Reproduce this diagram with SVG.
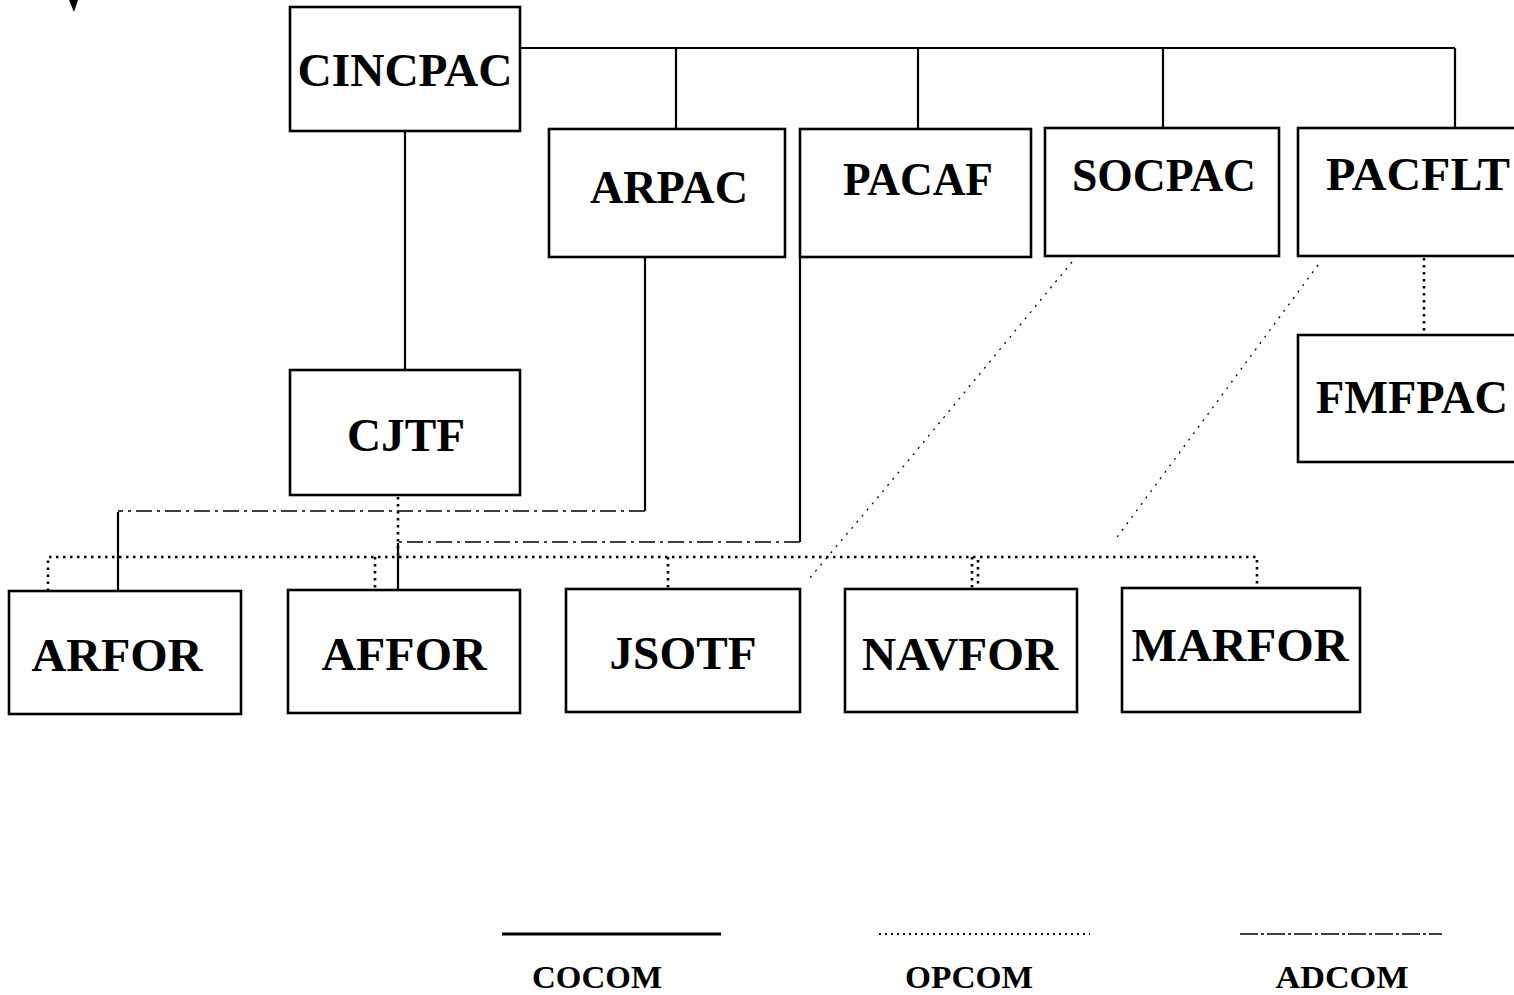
<svg xmlns="http://www.w3.org/2000/svg" width="1514" height="995" viewBox="0 0 1514 995">
<style>
.box{fill:#fff;stroke:#000;stroke-width:2.6}
.lbl{font-family:"Liberation Serif","Times New Roman",serif;font-weight:bold;font-size:46px;fill:#000;text-anchor:middle}
.leg{font-family:"Liberation Serif","Times New Roman",serif;font-weight:bold;font-size:32px;fill:#000;text-anchor:middle}
.co{fill:none;stroke:#000;stroke-width:2.2}
.op{fill:none;stroke:#000;stroke-width:2.6;stroke-dasharray:2.5 4.5}
.ad{fill:none;stroke:#000;stroke-width:1.6;stroke-dasharray:16 5 3 5}
.adf{fill:none;stroke:#000;stroke-width:1.3;stroke-dasharray:2 6}
</style>
<rect width="1514" height="995" fill="#fff"/>
<path d="M69,0 H78 L74,12 Z" fill="#000"/>
<g id="connectors">
  <path class="co" d="M520,48 H1455 M676,48 V129 M918,48 V129 M1163,48 V128 M1455,48 V128"/>
  <path class="co" d="M405,131 V370"/>
  <path class="co" d="M645,257 V511"/>
  <path class="co" d="M800,257 V542"/>
  <path class="co" d="M118,512 V591"/>
  <path class="co" d="M398,543 V590"/>
  <path class="ad" d="M645,511 H118"/>
  <path class="ad" d="M800,542 H398"/>
  <path class="op" d="M48,591 V557 H1257 V588"/>
  <path class="op" d="M398,497 V557"/>
  <path class="op" d="M375,557 V590"/>
  <path class="op" d="M668,557 V589"/>
  <path class="op" d="M972,557 V589 M978,560 V589"/>
  <path class="op" d="M1424,258 V335"/>
  <path class="adf" d="M1072,262 L884,490 L808,580"/>
  <path class="adf" d="M1318,265 L1115,540"/>
</g>
<g id="CINCPAC"><rect class="box" x="290" y="7" width="230" height="124"/><text class="lbl" x="405" y="86" textLength="215" lengthAdjust="spacingAndGlyphs">CINCPAC</text></g>
<g id="ARPAC"><rect class="box" x="549" y="129" width="236" height="128"/><text class="lbl" x="669" y="203" textLength="158" lengthAdjust="spacingAndGlyphs">ARPAC</text></g>
<g id="PACAF"><rect class="box" x="800" y="129" width="231" height="128"/><text class="lbl" x="918" y="195" textLength="150" lengthAdjust="spacingAndGlyphs">PACAF</text></g>
<g id="SOCPAC"><rect class="box" x="1045" y="128" width="234" height="128"/><text class="lbl" x="1164" y="191" textLength="184" lengthAdjust="spacingAndGlyphs">SOCPAC</text></g>
<g id="PACFLT"><rect class="box" x="1298" y="128" width="240" height="128"/><text class="lbl" x="1326" y="190" style="text-anchor:start" textLength="184" lengthAdjust="spacingAndGlyphs">PACFLT</text></g>
<g id="FMFPAC"><rect class="box" x="1298" y="335" width="240" height="127"/><text class="lbl" x="1316" y="413" style="text-anchor:start" textLength="192" lengthAdjust="spacingAndGlyphs">FMFPAC</text></g>
<g id="CJTF"><rect class="box" x="290" y="370" width="230" height="125"/><text class="lbl" x="406" y="451" textLength="118" lengthAdjust="spacingAndGlyphs">CJTF</text></g>
<g id="ARFOR"><rect class="box" x="9" y="591" width="232" height="123"/><text class="lbl" x="117" y="671" textLength="171" lengthAdjust="spacingAndGlyphs">ARFOR</text></g>
<g id="AFFOR"><rect class="box" x="288" y="590" width="232" height="123"/><text class="lbl" x="404" y="670" textLength="165" lengthAdjust="spacingAndGlyphs">AFFOR</text></g>
<g id="JSOTF"><rect class="box" x="566" y="589" width="234" height="123"/><text class="lbl" x="683" y="669" textLength="147" lengthAdjust="spacingAndGlyphs">JSOTF</text></g>
<g id="NAVFOR"><rect class="box" x="845" y="589" width="232" height="123"/><text class="lbl" x="960" y="670" textLength="196" lengthAdjust="spacingAndGlyphs">NAVFOR</text></g>
<g id="MARFOR"><rect class="box" x="1122" y="588" width="238" height="124"/><text class="lbl" x="1240" y="661" textLength="217" lengthAdjust="spacingAndGlyphs">MARFOR</text></g>
<g id="legend">
  <path class="co" d="M502,934 H721" style="stroke-width:3"/>
  <path class="op" d="M879,934 H1090" style="stroke-width:2.2;stroke-dasharray:2 4"/>
  <path class="ad" d="M1240,934 H1442" style="stroke-width:1.6;stroke-dasharray:18 3 3 3"/>
  <text class="leg" x="597" y="988" textLength="130" lengthAdjust="spacingAndGlyphs">COCOM</text>
  <text class="leg" x="969" y="988" textLength="128" lengthAdjust="spacingAndGlyphs">OPCOM</text>
  <text class="leg" x="1342" y="988" textLength="133" lengthAdjust="spacingAndGlyphs">ADCOM</text>
</g>
</svg>
